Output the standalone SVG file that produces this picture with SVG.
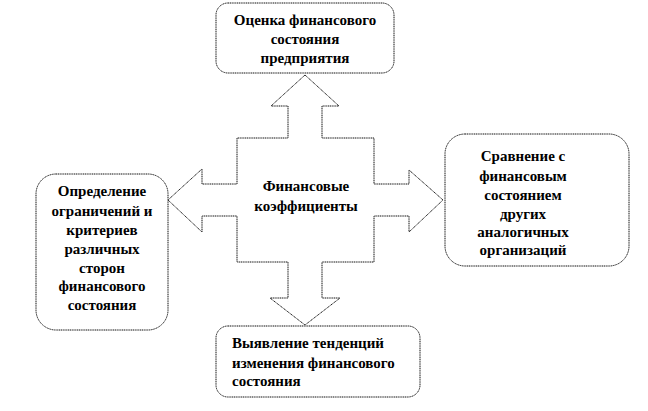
<svg xmlns="http://www.w3.org/2000/svg" width="648" height="411" viewBox="0 0 648 411">
<style>
.box{fill:#fff;stroke:#111;stroke-width:1;stroke-dasharray:1.2 0.6}
.arr{fill:#fff;stroke:#111;stroke-width:1;stroke-dasharray:1.2 0.6}
.t{font-family:"Liberation Serif","Times New Roman",serif;font-weight:bold;font-size:15px;fill:#000}
.c{text-anchor:middle}
</style>
<rect width="648" height="411" fill="#fff"/>
<g id="connectors">
<polygon class="arr" points="305,75 339,106 322,106 322,138 374,138 374,184 409,184 409,170 443,200 409,232 409,216 374,216 374,262 322,262 322,298 340,298 305,325 270,298 288,298 288,262 237,262 237,216 202,216 202,232 168,200 202,169 202,184 237,184 237,138 288,138 288,106 271,106"/>
</g>
<g id="center">
<text class="t c" x="306" y="191">Финансовые</text>
<text class="t c" x="306" y="211">коэффициенты</text>
</g>
<g id="top">
<rect class="box" x="216" y="3" width="178" height="70" rx="12"/>
<text class="t c" x="305" y="25">Оценка финансового</text>
<text class="t c" x="305" y="44">состояния</text>
<text class="t c" x="305" y="63">предприятия</text>
</g>
<g id="left">
<rect class="box" x="36" y="174" width="132" height="156" rx="20"/>
<text class="t c" x="102" y="196">Определение</text>
<text class="t c" x="102" y="216">ограничений и</text>
<text class="t c" x="102" y="235">критериев</text>
<text class="t c" x="102" y="254">различных</text>
<text class="t c" x="102" y="273">сторон</text>
<text class="t c" x="102" y="291">финансового</text>
<text class="t c" x="102" y="310">состояния</text>
</g>
<g id="right">
<rect class="box" x="445" y="134" width="184" height="132" rx="20"/>
<text class="t c" x="523" y="161">Сравнение с</text>
<text class="t c" x="523" y="181">финансовым</text>
<text class="t c" x="523" y="200">состоянием</text>
<text class="t c" x="523" y="219">других</text>
<text class="t c" x="523" y="237">аналогичных</text>
<text class="t c" x="523" y="255">организаций</text>
</g>
<g id="bottom">
<rect class="box" x="216" y="326" width="204" height="71" rx="12"/>
<text class="t" x="232" y="348">Выявление тенденций</text>
<text class="t" x="232" y="368">изменения финансового</text>
<text class="t" x="232" y="386">состояния</text>
</g>
</svg>
